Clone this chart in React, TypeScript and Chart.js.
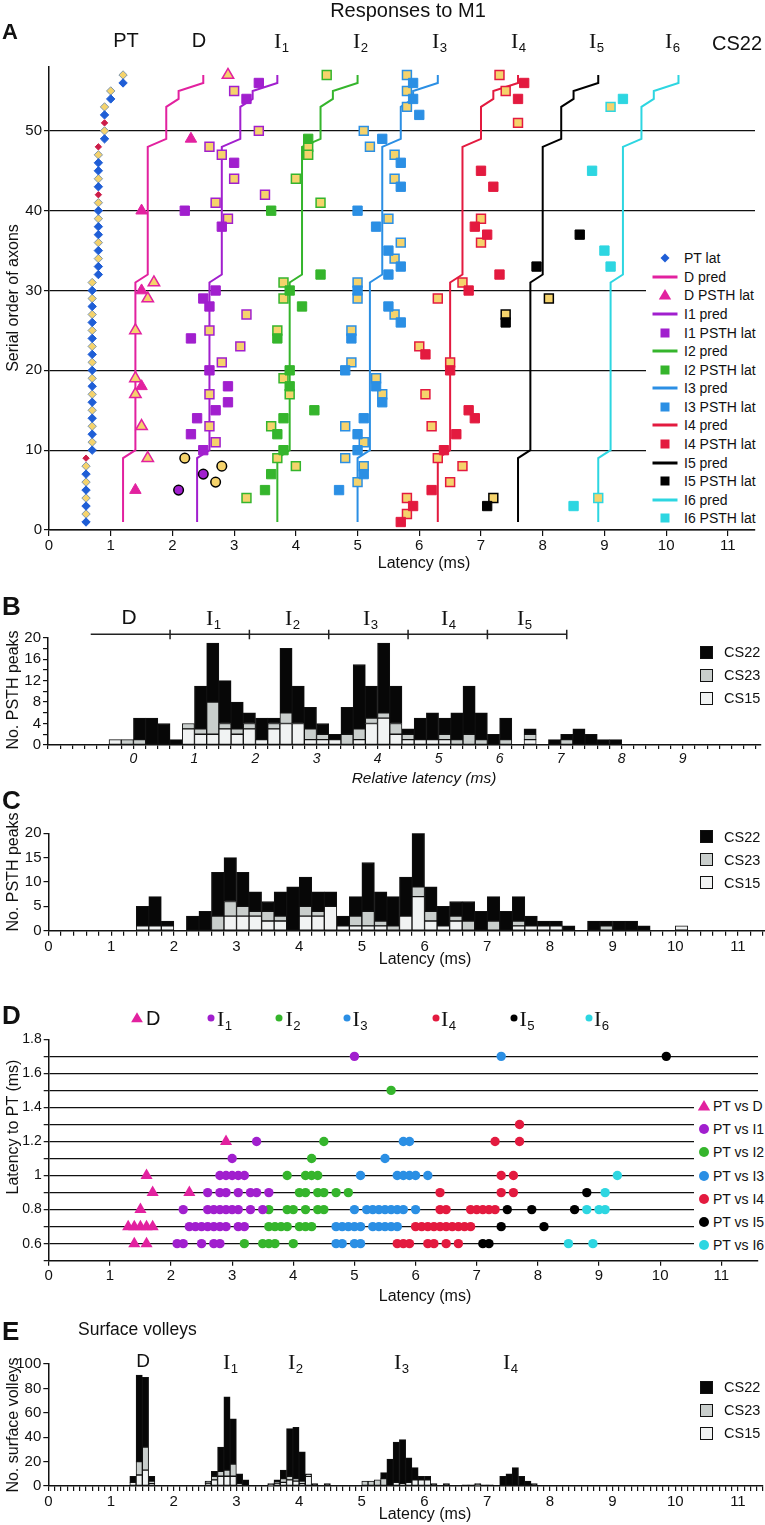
import React, { useEffect, useRef } from 'react';
import { Chart, registerables } from 'chart.js';

Chart.register(...registerables);

const SANS = '"Liberation Sans", Arial, Helvetica, sans-serif';
const SERIF = '"Liberation Serif", "Times New Roman", Times, serif';

const COL_D = '#e2219f';
const COL_I1 = '#a11fce';
const COL_I2 = '#35b52c';
const COL_I3 = '#2b8fe4';
const COL_I4 = '#e31a3f';
const COL_I5 = '#000000';
const COL_I6 = '#2dd6e1';
const COL_PT = '#1f5ed6';
const COL_YEL = '#f5d36c';
const COL_PTRIM = '#7f97ad';
const COL_PTRED = '#cc1b47';
const BAR22 = '#070707';
const BAR23 = '#c9cecc';
const BAR15 = '#f1f3f3';
const INK = '#111111';

// ---------------- Panel A : responses to M1 (latency, serial order) ----------------
const predRows = [1, 9, 10, 31, 32, 48, 49, 53, 54, 55, 56, 57];
const predD = [1.2, 1.2, 1.4, 1.4, 1.6, 1.6, 1.9, 1.9, 2.1, 2.1, 2.5, 2.5];
const predI1 = [2.4, 2.4, 2.6, 2.6, 2.8, 2.8, 3.1, 3.1, 3.3, 3.3, 3.7, 3.7];
const predI2 = [3.7, 3.7, 3.9, 3.9, 4.1, 4.1, 4.4, 4.4, 4.6, 4.6, 5.0, 5.0];
const predI3 = [5.0, 5.0, 5.2, 5.2, 5.4, 5.4, 5.7, 5.7, 5.9, 5.9, 6.3, 6.3];
const predI4 = [6.3, 6.3, 6.5, 6.5, 6.7, 6.7, 7.0, 7.0, 7.2, 7.2, 7.6, 7.6];
const predI5 = [7.6, 7.6, 7.8, 7.8, 8.0, 8.0, 8.3, 8.3, 8.5, 8.5, 8.9, 8.9];
const predI6 = [8.9, 8.9, 9.1, 9.1, 9.3, 9.3, 9.6, 9.6, 9.8, 9.8, 10.2, 10.2];

// [latency ms, serial order]
const ptBlue = [[0.6, 1], [0.6, 3], [0.6, 5], [0.6, 7], [0.7, 10], [0.7, 12], [0.7, 14], [0.7, 16], [0.7, 18], [0.7, 20], [0.7, 22], [0.7, 24], [0.7, 26], [0.7, 28], [0.7, 30], [0.8, 32], [0.8, 33], [0.8, 35], [0.8, 37], [0.8, 38], [0.8, 40], [0.8, 43], [0.8, 45], [0.8, 46], [0.9, 49], [0.9, 52], [1.0, 54], [1.2, 56]];
const ptYellow = [[0.6, 2], [0.6, 4], [0.6, 6], [0.6, 8], [0.7, 11], [0.7, 13], [0.7, 15], [0.7, 17], [0.7, 19], [0.7, 21], [0.7, 23], [0.7, 25], [0.7, 27], [0.7, 29], [0.7, 31], [0.8, 34], [0.8, 36], [0.8, 39], [0.8, 41], [0.8, 44], [0.8, 47], [0.9, 50], [0.9, 53], [1.0, 55], [1.2, 57]];
const ptRed = [[0.6, 9], [0.8, 42], [0.8, 48], [0.9, 51]];

const dFilled = [[2.3, 49], [1.5, 40], [1.5, 30], [1.5, 18], [1.4, 5]];
const dOpen = [[2.9, 57], [1.7, 31], [1.6, 29], [1.4, 25], [1.4, 19], [1.4, 17], [1.5, 13], [1.6, 9]];
const i1Filled = [[3.4, 56], [3.2, 54], [3.0, 46], [2.2, 40], [2.8, 38], [2.7, 30], [2.5, 29], [2.6, 28], [2.3, 24], [2.6, 20], [2.9, 18], [2.9, 16], [2.7, 15], [2.4, 14], [2.3, 12], [2.5, 10]];
const i1Open = [[3.0, 55], [3.4, 50], [2.6, 48], [2.8, 47], [3.0, 44], [3.5, 42], [2.7, 41], [2.9, 39], [3.2, 27], [2.6, 25], [3.1, 23], [2.8, 21], [2.6, 17], [2.6, 13], [2.7, 11]];
const i1CircFilled = [[2.5, 7], [2.1, 5]];
const i1CircOpen = [[2.2, 9], [2.8, 8], [2.7, 6]];
const i2Filled = [[4.2, 49], [3.6, 40], [4.4, 32], [3.9, 30], [4.1, 28], [3.7, 24], [3.9, 20], [3.9, 18], [4.3, 15], [3.8, 14], [3.7, 12], [3.8, 10], [3.6, 7], [3.5, 5]];
const i2Open = [[4.5, 57], [4.2, 48], [4.2, 47], [4.0, 44], [4.4, 41], [3.8, 31], [3.8, 29], [3.7, 25], [3.8, 19], [3.9, 17], [3.6, 13], [3.7, 9], [4.0, 8], [3.2, 4]];
const i3Filled = [[5.9, 56], [5.9, 54], [6.0, 52], [5.4, 49], [5.7, 46], [5.7, 43], [5.0, 40], [5.3, 38], [5.5, 35], [5.7, 33], [5.5, 32], [5.0, 30], [5.5, 28], [5.7, 26], [4.9, 24], [4.8, 20], [5.3, 18], [5.4, 16], [5.1, 14], [5.0, 12], [5.0, 10], [5.1, 7], [4.7, 5]];
const i3Open = [[5.8, 57], [5.8, 55], [5.8, 53], [5.1, 50], [5.2, 48], [5.6, 47], [5.6, 44], [5.5, 39], [5.7, 36], [5.6, 34], [5.0, 31], [5.0, 29], [5.6, 27], [4.9, 25], [4.9, 21], [5.3, 19], [5.4, 17], [4.8, 13], [5.1, 11], [4.8, 9], [5.1, 8], [5.0, 6]];
const i4Filled = [[7.7, 56], [7.6, 54], [7.0, 45], [7.2, 43], [6.9, 38], [7.1, 37], [7.3, 32], [6.8, 30], [6.1, 22], [6.5, 20], [6.8, 15], [6.9, 14], [6.6, 12], [6.4, 10], [6.2, 5], [5.9, 3], [5.7, 1]];
const i4Open = [[7.3, 57], [7.4, 55], [7.6, 51], [7.0, 39], [7.0, 36], [6.7, 31], [6.3, 29], [6.0, 23], [6.5, 21], [6.1, 17], [6.2, 13], [6.3, 9], [6.7, 8], [6.5, 6], [5.8, 4], [5.8, 2]];
const i5Filled = [[8.6, 37], [7.9, 33], [7.4, 26], [7.1, 3]];
const i5Open = [[8.1, 29], [7.4, 27], [7.2, 4]];
const i6Filled = [[9.3, 54], [8.8, 45], [9.0, 35], [9.1, 33], [8.5, 3]];
const i6Open = [[9.1, 53], [8.9, 4]];

const aXTicks = [0, 1, 2, 3, 4, 5, 6, 7, 8, 9, 10, 11];
const aYTicks = [0, 10, 20, 30, 40, 50];

// ---------------- Panel B : PSTH peaks vs relative latency (0.2 ms bins) ----------------
const bBins = [-0.4, -0.2, 0, 0.2, 0.4, 0.6, 0.8, 1.0, 1.2, 1.4, 1.6, 1.8, 2.0, 2.2, 2.4, 2.6, 2.8, 3.0, 3.2, 3.4, 3.6, 3.8, 4.0, 4.2, 4.4, 4.6, 4.8, 5.0, 5.2, 5.4, 5.6, 5.8, 6.0, 6.4, 6.8, 7.0, 7.2, 7.4, 7.6, 7.8];
const bCS15 = [1, 0, 0, 0, 0, 0, 3, 2, 2, 3, 2, 3, 1, 3, 4, 4, 1, 1, 1, 0, 1, 4, 5, 2, 1, 1, 1, 1, 0, 0, 0, 0, 0, 1, 0, 0, 0, 0, 0, 0];
const bCS23 = [0, 1, 1, 0, 0, 0, 1, 1, 6, 1, 1, 1, 0, 1, 2, 0, 2, 1, 0, 2, 2, 1, 1, 2, 1, 0, 0, 1, 1, 2, 1, 0, 1, 1, 0, 1, 0, 0, 0, 0];
const bCS22 = [0, 0, 4, 5, 4, 1, 0, 8, 11, 8, 5, 2, 4, 1, 12, 7, 4, 2, 1, 5, 12, 6, 13, 7, 1, 4, 5, 3, 5, 9, 5, 2, 4, 1, 1, 1, 3, 2, 1, 1];
const bBracketEdges = [-0.7, 0.6, 1.9, 3.2, 4.5, 5.8, 7.1];
const bXLabels = ['0', '1', '2', '3', '4', '5', '6', '7', '8', '9'];
const bYLabels = ['0', '4', '8', '12', '16', '20'];

// ---------------- Panel C : PSTH peaks vs latency (0.2 ms bins) ----------------
const cBins = [1.4, 1.6, 1.8, 2.2, 2.4, 2.6, 2.8, 3.0, 3.2, 3.4, 3.6, 3.8, 4.0, 4.2, 4.4, 4.6, 4.8, 5.0, 5.2, 5.4, 5.6, 5.8, 6.0, 6.2, 6.4, 6.6, 6.8, 7.0, 7.2, 7.4, 7.6, 7.8, 8.0, 8.2, 8.6, 8.8, 9.0, 9.2, 9.4, 10.0];
const cCS15 = [1, 1, 1, 0, 0, 0, 3, 3, 3, 2, 2, 0, 3, 3, 5, 1, 1, 1, 1, 0, 3, 7, 2, 1, 2, 0, 0, 0, 0, 1, 1, 1, 1, 0, 0, 0, 0, 0, 0, 1];
const cCS23 = [0, 0, 0, 0, 0, 3, 3, 2, 1, 2, 1, 0, 2, 1, 0, 0, 2, 3, 1, 1, 0, 2, 2, 0, 1, 2, 0, 2, 0, 1, 0, 0, 0, 0, 0, 1, 0, 0, 0, 0];
const cCS22 = [4, 6, 1, 3, 4, 9, 9, 7, 4, 2, 5, 9, 6, 4, 3, 2, 4, 10, 6, 6, 8, 11, 5, 4, 3, 4, 4, 5, 4, 5, 2, 1, 1, 1, 2, 1, 2, 2, 1, 0];
const latLabels = ['0', '1', '2', '3', '4', '5', '6', '7', '8', '9', '10', '11'];
const cYLabels = ['0', '5', '10', '15', '20'];

// ---------------- Panel D : latency to PT vs latency ----------------
// [latency ms, latency to PT ms]
const dPtD = [[2.9, 1.2], [1.6, 1.0], [1.7, 0.9], [2.3, 0.9], [1.5, 0.8], [1.3, 0.7], [1.4, 0.7], [1.5, 0.7], [1.6, 0.7], [1.7, 0.7], [1.4, 0.6], [1.6, 0.6]];
const dPtI1 = [[5.0, 1.7], [3.4, 1.2], [3.0, 1.1], [2.8, 1.0], [2.9, 1.0], [3.0, 1.0], [3.1, 1.0], [3.2, 1.0], [2.6, 0.9], [2.8, 0.9], [2.9, 0.9], [3.1, 0.9], [3.3, 0.9], [3.4, 0.9], [3.6, 0.9], [2.2, 0.8], [2.6, 0.8], [2.7, 0.8], [2.8, 0.8], [2.9, 0.8], [3.0, 0.8], [3.1, 0.8], [3.3, 0.8], [3.5, 0.8], [2.3, 0.7], [2.4, 0.7], [2.5, 0.7], [2.6, 0.7], [2.7, 0.7], [2.8, 0.7], [2.9, 0.7], [3.1, 0.7], [3.2, 0.7], [2.1, 0.6], [2.2, 0.6], [2.5, 0.6], [2.7, 0.6], [2.8, 0.6]];
const dPtI2 = [[5.6, 1.5], [4.5, 1.2], [4.3, 1.1], [3.9, 1.0], [4.2, 1.0], [4.3, 1.0], [4.4, 1.0], [4.1, 0.9], [4.2, 0.9], [4.4, 0.9], [4.5, 0.9], [4.7, 0.9], [4.9, 0.9], [3.6, 0.8], [3.9, 0.8], [4.0, 0.8], [4.2, 0.8], [4.4, 0.8], [4.5, 0.8], [3.6, 0.7], [3.7, 0.7], [3.8, 0.7], [3.9, 0.7], [4.1, 0.7], [4.2, 0.7], [4.3, 0.7], [3.2, 0.6], [3.5, 0.6], [3.6, 0.6], [3.7, 0.6], [4.0, 0.6]];
const dPtI3 = [[7.4, 1.7], [5.8, 1.2], [5.9, 1.2], [5.5, 1.1], [5.1, 1.0], [5.7, 1.0], [5.8, 1.0], [5.9, 1.0], [6.0, 1.0], [6.2, 1.0], [5.0, 0.8], [5.2, 0.8], [5.3, 0.8], [5.4, 0.8], [5.5, 0.8], [5.6, 0.8], [5.7, 0.8], [5.8, 0.8], [6.0, 0.8], [4.7, 0.7], [4.8, 0.7], [4.9, 0.7], [5.0, 0.7], [5.1, 0.7], [5.3, 0.7], [5.4, 0.7], [5.5, 0.7], [5.6, 0.7], [5.7, 0.7], [4.7, 0.6], [4.8, 0.6], [5.0, 0.6], [5.1, 0.6]];
const dPtI4 = [[7.7, 1.3], [7.3, 1.2], [7.7, 1.2], [7.4, 1.0], [7.6, 1.0], [6.4, 0.9], [7.4, 0.9], [7.6, 0.9], [6.4, 0.8], [6.5, 0.8], [6.9, 0.8], [7.0, 0.8], [7.1, 0.8], [7.2, 0.8], [7.3, 0.8], [6.0, 0.7], [6.1, 0.7], [6.2, 0.7], [6.3, 0.7], [6.4, 0.7], [6.5, 0.7], [6.6, 0.7], [6.7, 0.7], [6.8, 0.7], [6.9, 0.7], [5.7, 0.6], [5.8, 0.6], [5.9, 0.6], [6.2, 0.6], [6.3, 0.6], [6.5, 0.6], [6.7, 0.6]];
const dPtI5 = [[10.1, 1.7], [8.8, 0.9], [7.5, 0.8], [7.9, 0.8], [8.6, 0.8], [7.4, 0.7], [8.1, 0.7], [7.1, 0.6], [7.2, 0.6]];
const dPtI6 = [[9.3, 1.0], [9.1, 0.9], [8.8, 0.8], [9.0, 0.8], [9.1, 0.8], [8.5, 0.6], [8.9, 0.6]];
const dYLabels = ['0.6', '0.8', '1', '1.2', '1.4', '1.6', '1.8'];

// ---------------- Panel E : surface volleys (0.1 ms bins) ----------------
const eBins = [1.3, 1.4, 1.5, 1.6, 2.5, 2.6, 2.7, 2.8, 2.9, 3.0, 3.1, 3.5, 3.6, 3.7, 3.8, 3.9, 4.0, 4.1, 4.2, 4.4, 5.0, 5.1, 5.2, 5.3, 5.4, 5.5, 5.6, 5.7, 5.8, 5.9, 6.0, 6.1, 6.3, 6.6, 6.7, 6.8, 6.9, 7.0, 7.2, 7.3, 7.4, 7.5, 7.6, 7.7];
const eCS15 = [3, 9, 13, 2, 2, 5, 8, 8, 8, 2, 0, 1, 2, 3, 5, 4, 2, 8, 0, 0, 0, 0, 0, 0, 0, 3, 2, 3, 5, 5, 5, 0, 0, 0, 0, 0, 0, 0, 0, 0, 0, 0, 0, 0];
const eCS23 = [0, 11, 19, 2, 1, 3, 4, 5, 10, 0, 0, 0, 1, 3, 3, 2, 2, 1, 0, 0, 4, 4, 5, 6, 0, 0, 0, 0, 0, 0, 0, 0, 0, 0, 0, 1, 0, 0, 0, 0, 0, 0, 0, 0];
const eCS22 = [5, 71, 57, 4, 1, 4, 20, 60, 37, 8, 5, 1, 2, 7, 39, 42, 24, 1, 2, 2, 0, 0, 0, 5, 22, 33, 36, 20, 10, 3, 3, 2, 2, 1, 1, 1, 1, 1, 8, 10, 15, 8, 4, 2];
const eYLabels = ['0', '20', '40', '60', '80', '100'];

// ---------------- helpers ----------------
function rangeTicks(start: number, end: number, step: number): number[] {
  const out: number[] = [];
  const n = Math.round((end - start) / step);
  for (let i = 0; i <= n; i++) out.push(Math.round((start + i * step) * 1000) / 1000);
  return out;
}
const setTicks = (vals: number[]) => (scale: any) => {
  scale.ticks = vals.map((value) => ({ value }));
};
const fixW = (w: number) => (scale: any) => {
  scale.width = w;
};
const fixH = (h: number) => (scale: any) => {
  scale.height = h;
};
const labelFrom = (labels: string[]) => (v: any) => {
  const n = Number(v);
  const hit = labels.find((l) => Math.abs(Number(l) - n) < 1e-6);
  return hit === undefined ? '' : hit;
};
const pts = (arr: number[][]) => arr.map(([x, y]) => ({ x, y }));

function baseOptions(padding: any) {
  return {
    responsive: false,
    maintainAspectRatio: false,
    animation: false,
    devicePixelRatio: 1,
    events: [],
    layout: { padding },
    plugins: { legend: { display: false }, tooltip: { enabled: false }, title: { display: false } },
  };
}

function axis(tickLen: number, onArea: boolean, extra: any) {
  return {
    type: 'linear',
    border: { display: true, color: INK, width: 1.5 },
    grid: {
      drawOnChartArea: onArea,
      drawTicks: true,
      tickLength: tickLen,
      color: INK,
      tickColor: INK,
      lineWidth: 1.2,
      tickWidth: 1.2,
      offset: false,
    },
    ...extra,
    ticks: { autoSkip: false, maxRotation: 0, minRotation: 0, color: INK, ...(extra.ticks || {}) },
  };
}

// ---------------- chart configs ----------------
function buildA() {
  const pred = (xs: number[], color: string) => ({
    data: predRows.map((r, i) => ({ x: xs[i], y: r })),
    showLine: true,
    borderColor: color,
    backgroundColor: color,
    borderWidth: 2,
    pointRadius: 0,
    fill: false,
    tension: 0,
    order: 3,
    clip: false,
  });
  const mk = (arr: number[][], style: string, r: number, bg: string, bc: string, bw: number) => ({
    data: pts(arr),
    showLine: false,
    pointStyle: style,
    pointRadius: r,
    backgroundColor: bg,
    borderColor: bc,
    borderWidth: bw,
    order: 1,
    clip: false,
  });
  return {
    type: 'scatter',
    data: {
      datasets: [
        pred(predD, COL_D),
        pred(predI1, COL_I1),
        pred(predI2, COL_I2),
        pred(predI3, COL_I3),
        pred(predI4, COL_I4),
        pred(predI5, COL_I5),
        pred(predI6, COL_I6),
        mk(ptBlue, 'rectRot', 4.2, COL_PT, COL_PT, 1),
        mk(ptYellow, 'rectRot', 4.2, COL_YEL, COL_PTRIM, 1),
        mk(ptRed, 'rectRot', 3.2, COL_PTRED, COL_PTRED, 1),
        mk(dFilled, 'triangle', 6.6, COL_D, COL_D, 1),
        mk(dOpen, 'triangle', 6.6, COL_YEL, COL_D, 1.5),
        mk(i1Filled, 'rect', 6.6, COL_I1, COL_I1, 1),
        mk(i1Open, 'rect', 6.3, COL_YEL, COL_I1, 1.5),
        mk(i1CircFilled, 'circle', 4.8, COL_I1, '#000', 1.5),
        mk(i1CircOpen, 'circle', 4.8, COL_YEL, '#000', 1.5),
        mk(i2Filled, 'rect', 6.6, COL_I2, COL_I2, 1),
        mk(i2Open, 'rect', 6.3, COL_YEL, COL_I2, 1.5),
        mk(i3Filled, 'rect', 6.6, COL_I3, COL_I3, 1),
        mk(i3Open, 'rect', 6.3, COL_YEL, COL_I3, 1.5),
        mk(i4Filled, 'rect', 6.6, COL_I4, COL_I4, 1),
        mk(i4Open, 'rect', 6.3, COL_YEL, COL_I4, 1.5),
        mk(i5Filled, 'rect', 6.6, COL_I5, COL_I5, 1),
        mk(i5Open, 'rect', 6.3, COL_YEL, COL_I5, 1.5),
        mk(i6Filled, 'rect', 6.6, COL_I6, COL_I6, 1),
        mk(i6Open, 'rect', 6.3, COL_YEL, COL_I6, 1.5),
      ],
    },
    options: {
      ...baseOptions({ top: 67, right: 10, bottom: 0, left: 0 }),
      scales: {
        x: axis(6, false, {
          min: 0,
          max: 11.44,
          afterBuildTicks: setTicks(aXTicks),
          afterFit: fixH(60),
          ticks: { font: { family: SANS, size: 15 }, padding: 1, callback: labelFrom(latLabels) },
        }),
        y: axis(5, true, {
          min: 0,
          max: 58,
          afterBuildTicks: setTicks(aYTicks),
          afterFit: fixW(49),
          ticks: { font: { family: SANS, size: 15 }, padding: 2, callback: (v: any) => String(v) },
        }),
      },
    },
  };
}

const bracketPlugin = {
  id: 'bracketB',
  afterDraw(chart: any) {
    const { ctx, chartArea } = chart;
    const x = chart.scales.x;
    const y = chartArea.top - 3.5;
    ctx.save();
    ctx.strokeStyle = '#222';
    ctx.lineWidth = 1.5;
    ctx.beginPath();
    ctx.moveTo(x.getPixelForValue(bBracketEdges[0]), y);
    ctx.lineTo(x.getPixelForValue(bBracketEdges[bBracketEdges.length - 1]), y);
    for (let i = 1; i < bBracketEdges.length; i++) {
      const px = x.getPixelForValue(bBracketEdges[i]);
      ctx.moveTo(px, y - 4.5);
      ctx.lineTo(px, y + 5);
    }
    ctx.stroke();
    ctx.restore();
  },
};

function barConfig(p: any) {
  const mkBar = (vals: number[], bg: string, label: string) => ({
    label,
    data: p.bins.map((b: number, i: number) => ({ x: b + p.half, y: vals[i] === 0 ? null : vals[i] })),
    backgroundColor: bg,
    borderColor: INK,
    borderWidth: 1,
    borderSkipped: false,
    barPercentage: 1,
    categoryPercentage: 1,
  });
  return {
    type: 'bar',
    data: {
      datasets: [mkBar(p.s15, BAR15, 'CS15'), mkBar(p.s23, BAR23, 'CS23'), mkBar(p.s22, BAR22, 'CS22')],
    },
    plugins: p.plugins || [],
    options: {
      ...baseOptions(p.padding),
      scales: {
        x: axis(p.xTickLen, false, {
          stacked: true,
          offset: false,
          min: p.xMin,
          max: p.xMax,
          afterBuildTicks: setTicks(p.xTicks),
          afterFit: fixH(p.xHeight),
          ticks: { font: { family: SANS, size: p.xFont, style: p.italic ? 'italic' : 'normal' }, padding: 2, callback: labelFrom(p.xLabels) },
        }),
        y: axis(5, false, {
          stacked: true,
          min: 0,
          max: p.yMax,
          afterBuildTicks: setTicks(p.yTicks),
          afterFit: fixW(p.yWidth),
          ticks: { font: { family: SANS, size: 15 }, padding: 2, callback: labelFrom(p.yLabels) },
        }),
      },
    },
  };
}

function buildB() {
  return barConfig({
    bins: bBins, s15: bCS15, s23: bCS23, s22: bCS22, half: 0.1,
    xMin: -1.4, xMax: 10.27, xTicks: rangeTicks(-1.4, 10.2, 0.2), xLabels: bXLabels, italic: true, xFont: 14, xTickLen: 4,
    yMax: 20, yTicks: rangeTicks(0, 20, 2), yLabels: bYLabels,
    padding: { top: 47.7, right: 4.8, bottom: 0, left: 0 }, yWidth: 48, xHeight: 25,
    plugins: [bracketPlugin],
  });
}

function buildC() {
  return barConfig({
    bins: cBins, s15: cCS15, s23: cCS23, s22: cCS22, half: 0.1,
    xMin: 0, xMax: 11.42, xTicks: rangeTicks(0, 11.4, 0.2), xLabels: latLabels, italic: false, xFont: 15, xTickLen: 5,
    yMax: 20, yTicks: rangeTicks(0, 20, 5), yLabels: cYLabels,
    padding: { top: 63.3, right: 0.5, bottom: 0, left: 0 }, yWidth: 48.5, xHeight: 39.3,
  });
}

function buildE() {
  return barConfig({
    bins: eBins, s15: eCS15, s23: eCS23, s22: eCS22, half: 0.05,
    xMin: 0, xMax: 11.4, xTicks: rangeTicks(0, 11.4, 0.1), xLabels: latLabels, italic: false, xFont: 15, xTickLen: 5,
    yMax: 100, yTicks: rangeTicks(0, 100, 20), yLabels: eYLabels,
    padding: { top: 54, right: 0.7, bottom: 0, left: 0 }, yWidth: 48.3, xHeight: 39,
  });
}

function buildD() {
  const mk = (arr: number[][], style: string, r: number, color: string) => ({
    data: pts(arr),
    showLine: false,
    pointStyle: style,
    pointRadius: r,
    backgroundColor: color,
    borderColor: color,
    borderWidth: 0,
    clip: false,
  });
  return {
    type: 'scatter',
    data: {
      datasets: [
        mk(dPtD, 'triangle', 7, COL_D),
        mk(dPtI1, 'circle', 4.7, COL_I1),
        mk(dPtI2, 'circle', 4.7, COL_I2),
        mk(dPtI3, 'circle', 4.7, COL_I3),
        mk(dPtI4, 'circle', 4.7, COL_I4),
        mk(dPtI5, 'circle', 4.7, COL_I5),
        mk(dPtI6, 'circle', 4.7, COL_I6),
      ],
    },
    options: {
      ...baseOptions({ top: 69.3, right: 0.6, bottom: 0, left: 0 }),
      scales: {
        x: axis(5, false, {
          min: 0,
          max: 11.6,
          afterBuildTicks: setTicks(aXTicks),
          afterFit: fixH(49.3),
          ticks: { font: { family: SANS, size: 15 }, padding: 1, callback: labelFrom(latLabels) },
        }),
        y: {
          ...axis(5, true, {
            min: 0.5,
            max: 1.8,
            afterBuildTicks: setTicks(rangeTicks(0.5, 1.8, 0.1)),
            afterFit: fixW(48.7),
            ticks: { font: { family: SANS, size: 14 }, padding: 2, callback: labelFrom(dYLabels) },
          }),
          grid: {
            drawOnChartArea: true,
            drawTicks: true,
            tickLength: 5,
            lineWidth: 1.3,
            tickWidth: 1.2,
            tickColor: INK,
            color: (c: any) => {
              const v = c.tick ? c.tick.value : 0;
              return v > 0.55 && v < 1.75 ? INK : 'rgba(0,0,0,0)';
            },
          },
        },
      },
    },
  };
}

// ---------------- React pieces ----------------
function ChartCanvas({ top, height, build }: { top: number; height: number; build: () => any }) {
  const ref = useRef<HTMLCanvasElement | null>(null);
  useEffect(() => {
    if (!ref.current) return;
    const chart = new Chart(ref.current, build() as any);
    return () => chart.destroy();
  }, [build]);
  return (
    <canvas
      ref={ref}
      width={765}
      height={height}
      style={{ position: 'absolute', left: 0, top, width: 765, height, display: 'block' }}
    />
  );
}

type TxtProps = {
  x: number; y: number; size?: number; family?: string; weight?: any; italic?: boolean;
  anchor?: 'start' | 'middle' | 'end'; rotate?: boolean; children: any;
};
function Txt({ x, y, size = 15, family = SANS, weight = 'normal', italic = false, anchor = 'start', rotate = false, children }: TxtProps) {
  const tx = anchor === 'middle' ? '-50%' : anchor === 'end' ? '-100%' : '0';
  return (
    <div
      style={{
        position: 'absolute', left: x, top: y,
        transform: `translate(${tx}, -50%)${rotate ? ' rotate(-90deg)' : ''}`,
        fontSize: size, fontFamily: family, fontWeight: weight, fontStyle: italic ? 'italic' : 'normal',
        lineHeight: 1, whiteSpace: 'nowrap', color: INK,
      }}
    >
      {children}
    </div>
  );
}
const Sub = ({ children }: any) => (
  <span style={{ fontFamily: SANS, fontSize: '0.6em', position: 'relative', top: '0.32em', marginLeft: '0.03em' }}>{children}</span>
);
const ILab = ({ x, y, n, size = 22 }: any) => (
  <Txt x={x} y={y} size={size} family={SERIF}>I<Sub>{n}</Sub></Txt>
);

function Marker({ kind, color, cx, cy, s = 1 }: any) {
  const w = 28, h = 16;
  return (
    <svg width={w} height={h} style={{ position: 'absolute', left: cx - w / 2, top: cy - h / 2, overflow: 'visible' }}>
      {kind === 'line' && <line x1={1.5} y1={8} x2={26.5} y2={8} stroke={color} strokeWidth={3} />}
      {kind === 'square' && <rect x={14 - 4.5 * s} y={8 - 4.5 * s} width={9 * s} height={9 * s} fill={color} />}
      {kind === 'triangle' && <polygon points={`14,${8 - 6 * s} ${14 + 6.2 * s},${8 + 4.5 * s} ${14 - 6.2 * s},${8 + 4.5 * s}`} fill={color} />}
      {kind === 'diamond' && <polygon points="14,3.5 18.5,8 14,12.5 9.5,8" fill={color} />}
      {kind === 'circle' && <circle cx={14} cy={8} r={5 * s} fill={color} />}
    </svg>
  );
}

const legendAItems = [
  { kind: 'diamond', color: COL_PT, label: 'PT lat' },
  { kind: 'line', color: COL_D, label: 'D pred' },
  { kind: 'triangle', color: COL_D, label: 'D PSTH lat' },
  { kind: 'line', color: COL_I1, label: 'I1 pred' },
  { kind: 'square', color: COL_I1, label: 'I1 PSTH lat' },
  { kind: 'line', color: COL_I2, label: 'I2 pred' },
  { kind: 'square', color: COL_I2, label: 'I2 PSTH lat' },
  { kind: 'line', color: COL_I3, label: 'I3 pred' },
  { kind: 'square', color: COL_I3, label: 'I3 PSTH lat' },
  { kind: 'line', color: COL_I4, label: 'I4 pred' },
  { kind: 'square', color: COL_I4, label: 'I4 PSTH lat' },
  { kind: 'line', color: COL_I5, label: 'I5 pred' },
  { kind: 'square', color: COL_I5, label: 'I5 PSTH lat' },
  { kind: 'line', color: COL_I6, label: 'I6 pred' },
  { kind: 'square', color: COL_I6, label: 'I6 PSTH lat' },
];

const legendDItems = [
  { kind: 'triangle', color: COL_D, label: 'PT vs D' },
  { kind: 'circle', color: COL_I1, label: 'PT vs I1' },
  { kind: 'circle', color: COL_I2, label: 'PT vs I2' },
  { kind: 'circle', color: COL_I3, label: 'PT vs I3' },
  { kind: 'circle', color: COL_I4, label: 'PT vs I4' },
  { kind: 'circle', color: COL_I5, label: 'PT vs I5' },
  { kind: 'circle', color: COL_I6, label: 'PT vs I6' },
];

const barLegendItems = [
  { label: 'CS22', color: BAR22 },
  { label: 'CS23', color: BAR23 },
  { label: 'CS15', color: BAR15 },
];

function BarLegend({ top }: { top: number }) {
  return (
    <>
      {barLegendItems.map((it, i) => (
        <React.Fragment key={it.label}>
          <div
            style={{
              position: 'absolute', left: 700, top: top + i * 23 - 6.5, width: 13, height: 13,
              boxSizing: 'border-box', background: it.color, border: '1.5px solid #111',
            }}
          />
          <Txt x={724} y={top + i * 23} size={14.5}>{it.label}</Txt>
        </React.Fragment>
      ))}
    </>
  );
}

export default function App() {
  return (
    <div
      style={{
        position: 'absolute', left: 0, top: 0, width: 765, height: 1525, overflow: 'hidden',
        background: '#fff', fontFamily: SANS, color: INK,
      }}
    >
      <ChartCanvas top={0} height={590} build={buildA} />
      <ChartCanvas top={590} height={180} build={buildB} />
      <ChartCanvas top={770} height={200} build={buildC} />
      <ChartCanvas top={970} height={340} build={buildD} />
      <ChartCanvas top={1310} height={215} build={buildE} />

      {/* Panel A texts */}
      <Txt x={408} y={10} size={20} anchor="middle">Responses to M1</Txt>
      <Txt x={2} y={32} size={22} weight="bold">A</Txt>
      <Txt x={126} y={39.5} size={20} anchor="middle">PT</Txt>
      <Txt x={199} y={39.5} size={20} anchor="middle">D</Txt>
      <ILab x={274} y={41} n="1" />
      <ILab x={353} y={41} n="2" />
      <ILab x={432} y={41} n="3" />
      <ILab x={511} y={41} n="4" />
      <ILab x={589} y={41} n="5" />
      <ILab x={665} y={41} n="6" />
      <Txt x={712} y={43} size={20}>CS22</Txt>
      <Txt x={13} y={298} size={16} anchor="middle" rotate>Serial order of axons</Txt>
      <Txt x={424} y={563} size={16} anchor="middle">Latency (ms)</Txt>
      <div style={{ position: 'absolute', left: 646, top: 249, width: 119, height: 278, background: '#fff' }} />
      {legendAItems.map((it, i) => (
        <React.Fragment key={it.label}>
          <Marker kind={it.kind} color={it.color} cx={665} cy={258.3 + i * 18.57} />
          <Txt x={684} y={258.3 + i * 18.57} size={14}>{it.label}</Txt>
        </React.Fragment>
      ))}

      {/* Panel B texts */}
      <Txt x={2} y={606} size={26} weight="bold">B</Txt>
      <Txt x={129} y={615.5} size={21} anchor="middle">D</Txt>
      <ILab x={206} y={617.5} n="1" />
      <ILab x={285} y={617.5} n="2" />
      <ILab x={363} y={617.5} n="3" />
      <ILab x={441} y={617.5} n="4" />
      <ILab x={517} y={617.5} n="5" />
      <Txt x={13} y={690} size={16} anchor="middle" rotate>No. PSTH peaks</Txt>
      <Txt x={424} y={778} size={15.5} anchor="middle" italic>Relative latency (ms)</Txt>
      <BarLegend top={652} />

      {/* Panel C texts */}
      <Txt x={2} y={800} size={26} weight="bold">C</Txt>
      <Txt x={13} y={872} size={16} anchor="middle" rotate>No. PSTH peaks</Txt>
      <Txt x={425} y={959} size={16} anchor="middle">Latency (ms)</Txt>
      <BarLegend top={836.7} />

      {/* Panel D texts */}
      <Txt x={2} y={1015} size={26} weight="bold">D</Txt>
      <Marker kind="triangle" color={COL_D} cx={136.7} cy={1017.5} s={0.95} />
      <Txt x={146} y={1017.5} size={20}>D</Txt>
      <Marker kind="circle" color={COL_I1} cx={210.7} cy={1018} s={0.7} />
      <ILab x={217} y={1019} n="1" />
      <Marker kind="circle" color={COL_I2} cx={279.3} cy={1018} s={0.7} />
      <ILab x={285.5} y={1019} n="2" />
      <Marker kind="circle" color={COL_I3} cx={346.7} cy={1018} s={0.7} />
      <ILab x={352.5} y={1019} n="3" />
      <Marker kind="circle" color={COL_I4} cx={436} cy={1018} s={0.7} />
      <ILab x={441} y={1019} n="4" />
      <Marker kind="circle" color={COL_I5} cx={514.3} cy={1018} s={0.7} />
      <ILab x={519.5} y={1019} n="5" />
      <Marker kind="circle" color={COL_I6} cx={589.3} cy={1018} s={0.7} />
      <ILab x={594} y={1019} n="6" />
      <Txt x={13} y={1127} size={16} anchor="middle" rotate>Latency to PT (ms)</Txt>
      <Txt x={425} y={1296} size={16} anchor="middle">Latency (ms)</Txt>
      <div style={{ position: 'absolute', left: 694, top: 1094, width: 71, height: 163, background: '#fff' }} />
      {legendDItems.map((it, i) => (
        <React.Fragment key={it.label}>
          <Marker kind={it.kind} color={it.color} cx={703.7} cy={1106 + i * 23.2} s={1} />
          <Txt x={713} y={1106 + i * 23.2} size={14}>{it.label}</Txt>
        </React.Fragment>
      ))}

      {/* Panel E texts */}
      <Txt x={2} y={1331} size={26} weight="bold">E</Txt>
      <Txt x={78} y={1330} size={17.5}>Surface volleys</Txt>
      <Txt x={143} y={1360} size={19} anchor="middle">D</Txt>
      <ILab x={223} y={1362} n="1" />
      <ILab x={288} y={1362} n="2" />
      <ILab x={394} y={1362} n="3" />
      <ILab x={503} y={1362} n="4" />
      <Txt x={13} y={1425} size={16} anchor="middle" rotate>No. surface volleys</Txt>
      <Txt x={425} y={1514} size={16} anchor="middle">Latency (ms)</Txt>
      <BarLegend top={1387.3} />
    </div>
  );
}
